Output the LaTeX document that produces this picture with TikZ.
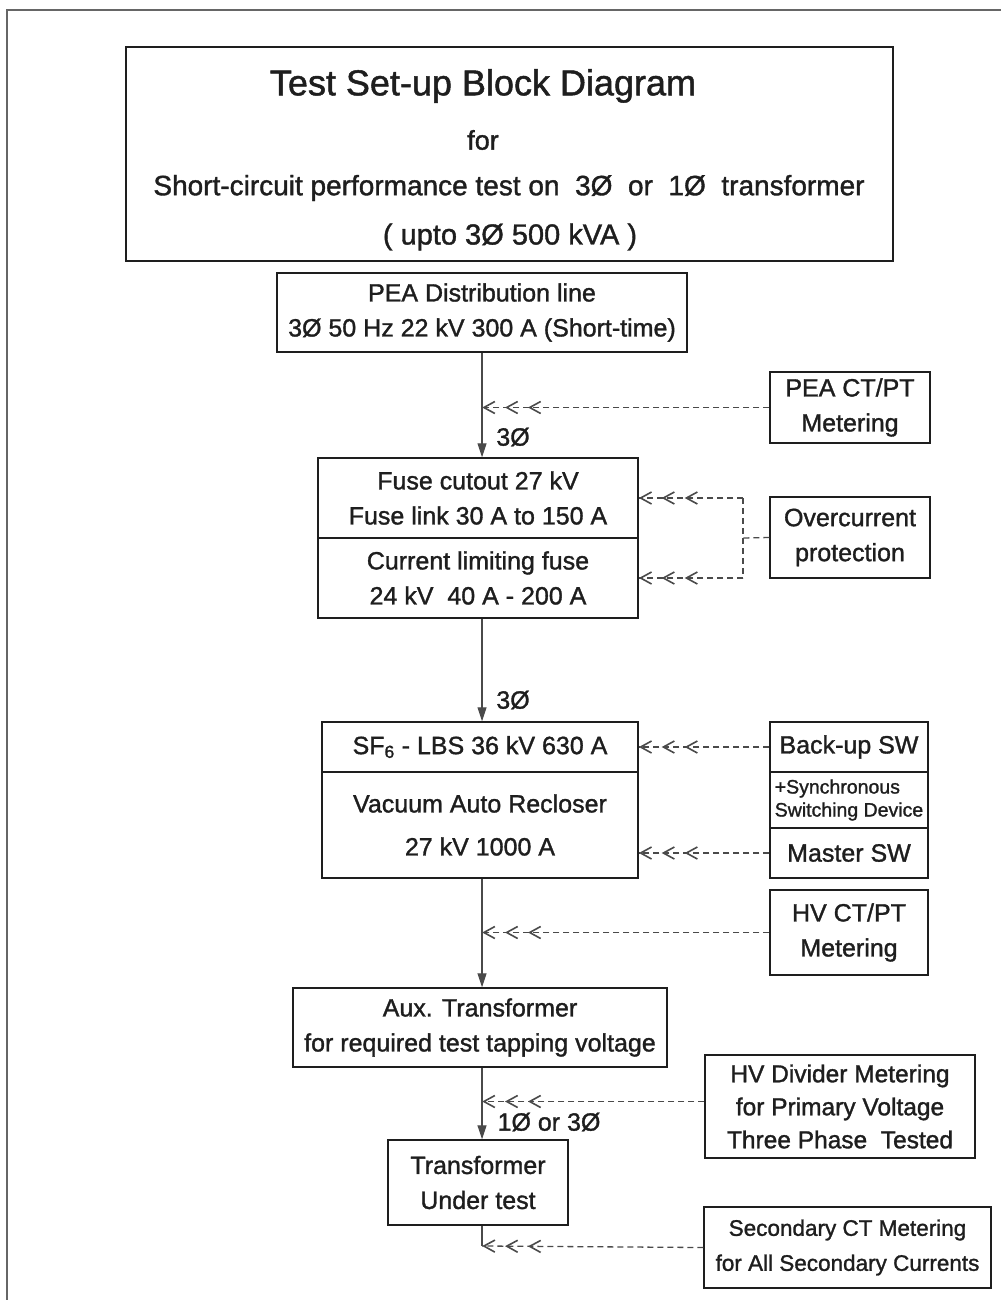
\documentclass[tikz,border=0pt]{standalone}
\usepackage{fontspec}
\setmainfont{Liberation Sans}[RawFeature={embolden=1.3}]
\usetikzlibrary{arrows.meta,positioning,decorations.markings}
\definecolor{inkGrey}{HTML}{1E1E1E}
\definecolor{lineGrey}{HTML}{4A4A4A}
\newcommand{\bodyfont}{\fontsize{25}{35}\selectfont}

\begin{document}
\begin{tikzpicture}[x=1pt, y=-1pt,
    block/.style={rectangle, draw=inkGrey, line width=1.4pt, align=center,
                  inner sep=0pt, font=\bodyfont, text=inkGrey},
    wh/.style 2 args={minimum width=#1pt, minimum height=#2pt},
    caption/.style={inner sep=0pt, text=inkGrey, font=\bodyfont},
    feed/.style={-{Triangle[length=14pt,width=9pt]}, line width=1.1pt, draw=lineGrey},
    sense/.style={draw=lineGrey, line width=1.3pt, dash pattern=on 6pt off 4pt,
                  postaction={decorate},
                  decoration={markings,
                      mark=at position -0.2pt with {\arrow{Straight Barb[length=11pt,width=12pt,line width=1.6pt]}},
                      mark=at position -23pt with {\arrow{Straight Barb[length=11pt,width=12pt,line width=1.6pt]}},
                      mark=at position -46pt with {\arrow{Straight Barb[length=11pt,width=12pt,line width=1.6pt]}}}},
    link/.style={draw=lineGrey, line width=1.3pt, dash pattern=on 6pt off 4pt},
]
    \useasboundingbox (0,0) rectangle (1001,1300);
    % page frame
    \draw[line width=2.5pt, black!60] (7,1300) -- (7,10) -- (1001,10);

    % title block
    \node[block, wh={767}{214}] (titlebox) at (509.5,154) {};
    \node[caption, font=\fontsize{36}{40}\selectfont] (ttlmain) at (483,86) {Test Set-up Block Diagram};
    \node[caption, font=\fontsize{27}{32}\selectfont] (ttlfor) at (483,140) {for};
    \node[caption, font=\fontsize{28}{32}\selectfont] (ttlsub) at (509,188)
         {Short-circuit performance test on~ 3Ø~ or~ 1Ø~ transformer};
    \node[caption, font=\fontsize{29}{32}\selectfont] (ttlrate) at (510,237) {( upto 3Ø 500 kVA )};

    \coordinate (bus) at (482,0);

    % main chain
    \node[block, wh={410}{79}] (pea) at (482,312.5)
         {PEA Distribution line\\3Ø 50 Hz 22 kV 300 A (Short-time)};
    \node[block, wh={320}{80}] (fuse1) at (478,498)
         {Fuse cutout 27 kV\\Fuse link 30 A to 150 A};
    \node[block, wh={320}{80}] (fuse2) at (478,578)
         {Current limiting fuse\\24 kV~ 40 A - 200 A};
    \node[block, wh={316}{50}] (lbs) at (480,747) {SF\textsubscript{6} - LBS 36 kV 630 A};
    \node[block, wh={316}{106}] (recl) at (480,825)
         {Vacuum Auto Recloser\\[8pt]27 kV 1000 A};
    \node[block, wh={374}{79}] (aux) at (480,1027.5)
         {Aux. Transformer\\for required test tapping voltage};
    \node[block, wh={180}{85}] (tut) at (478,1182.5) {Transformer\\Under test};

    % metering and protection
    \node[block, wh={160}{71}] (peact) at (850,407.5) {PEA CT/PT\\Metering};
    \node[block, wh={160}{81}] (ocp) at (850,537.5) {Overcurrent\\protection};
    \node[block, wh={158}{50}] (bsw) at (849,747) {Back-up SW};
    \node[block, wh={158}{56}, font=\fontsize{19.5}{23}\selectfont, align=left] (sync) at (849,800)
         {+Synchronous\\Switching Device};
    \node[block, wh={158}{50}] (msw) at (849,853) {Master SW};
    \node[block, wh={158}{85}] (hvct) at (849,932.5) {HV CT/PT\\Metering};
    \node[block, wh={270}{103}, font=\fontsize{24.5}{33}\selectfont] (hvdiv) at (840,1106.5)
         {HV Divider Metering\\for Primary Voltage\\Three Phase~ Tested};
    \node[block, wh={287}{81}, font=\fontsize{22.5}{35}\selectfont] (secct) at (847.5,1247.5)
         {Secondary CT Metering\\for All Secondary Currents};

    % phase labels
    \node[caption] (ph1) at (513,437) {3Ø};
    \node[caption] (ph2) at (513,700) {3Ø};
    \node[caption] (ph3) at (549,1122) {1Ø or 3Ø};

    % power path
    \draw[feed] (pea.south -| bus) -- (fuse1.north -| bus);
    \draw[feed] (fuse2.south -| bus) -- (lbs.north -| bus);
    \draw[feed] (recl.south -| bus) -- (aux.north -| bus);
    \draw[feed] (aux.south -| bus) -- (tut.north -| bus);
    \coordinate (tail) at (482,1246);
    \draw[draw=lineGrey, line width=1.1pt] (tut.south -| bus) -- (tail);

    % measuring and control links
    \draw[sense] (peact.west) -- (peact.west -| bus);
    \coordinate (brk) at (743,538);
    \draw[link] (ocp.west) -- (brk);
    \draw[link] (brk |- fuse1.east) -- (brk |- fuse2.east);
    \draw[sense] (brk |- fuse1.east) -- (fuse1.east);
    \draw[sense] (brk |- fuse2.east) -- (fuse2.east);
    \draw[sense] (bsw.west) -- (lbs.east);
    \draw[sense] (msw.west) -- (msw.west -| recl.east);
    \draw[sense] (hvct.west) -- (hvct.west -| bus);
    \draw[sense] ([yshift=5pt]hvdiv.west) -- ([yshift=5pt]hvdiv.west -| bus);
    \draw[sense] (secct.west) -- (tail);
\end{tikzpicture}
\end{document}
